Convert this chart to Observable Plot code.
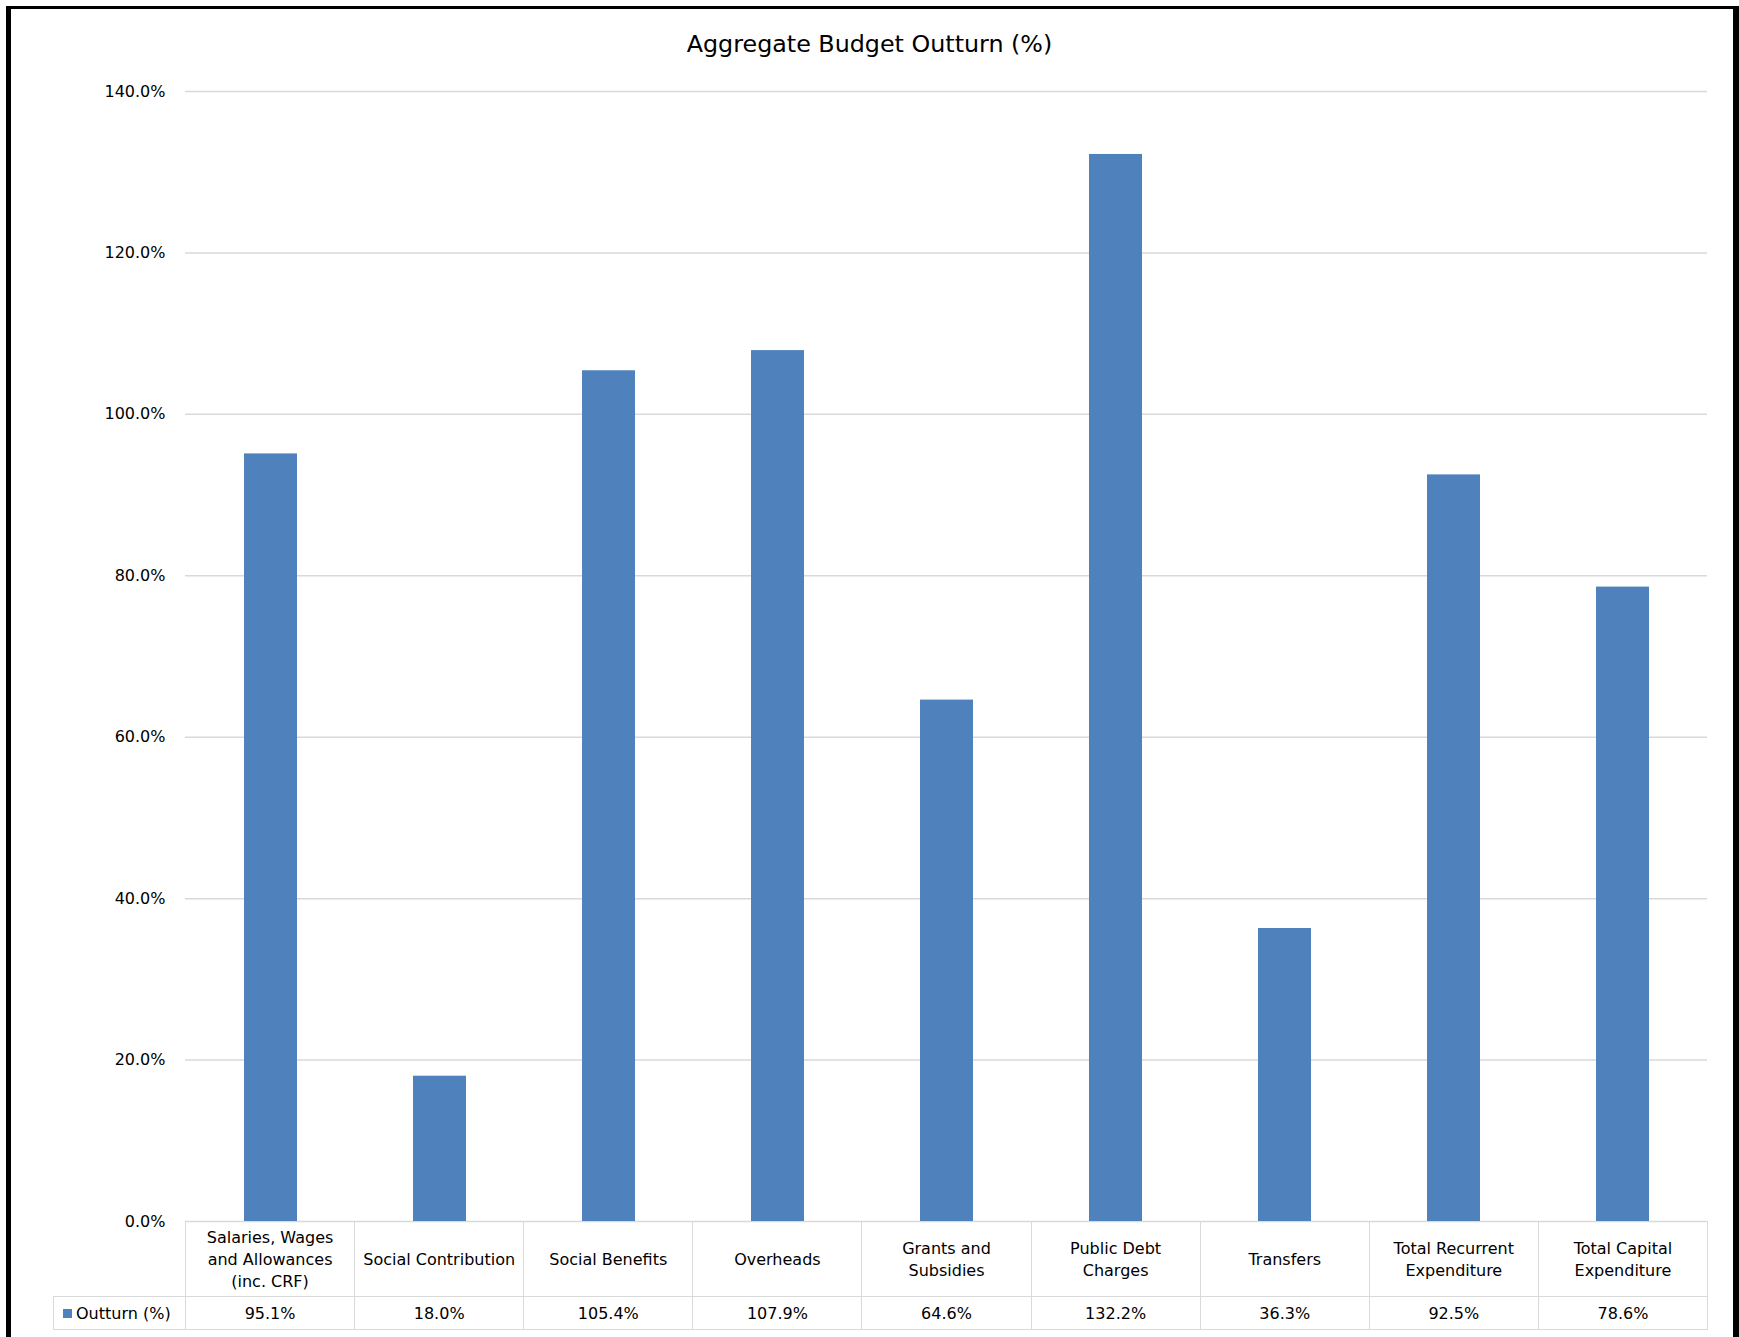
<!DOCTYPE html>
<html>
<head>
<meta charset="utf-8">
<script src="https://cdn.jsdelivr.net/npm/d3@7"></script>
<script src="https://cdn.jsdelivr.net/npm/@observablehq/plot@0.6"></script>
<style>
  html, body { margin: 0; padding: 0; background: #fff; overflow: hidden; }
  body { width: 1739px; height: 1337px; position: relative; font-family: "DejaVu Sans", Verdana, sans-serif; color: #000; }
  #frame { position: absolute; left: 6px; top: 6px; width: 1722px; height: 1400px;
           border-left: 5px solid #000; border-top: 3px solid #000; border-right: 6px solid #000; }
  #title { position: absolute; left: 0; top: 33px; width: 1739px; text-align: center;
           font-size: 23.8px; line-height: 23.8px; }
  #chart { position: absolute; left: 0; top: 0; }
  #datatable { position: absolute; left: 53px; top: 1221px; border-collapse: collapse;
               table-layout: fixed; font-size: 16px; }
  #datatable td { border: 1.5px solid #d9d9d9; text-align: center; vertical-align: middle;
                  padding: 0; line-height: 22px; white-space: pre; }
  #datatable tr.head td { height: 72px; padding-top: 2px; }
  #datatable tr.vals td { height: 30px; padding-top: 2px; }
  #datatable td.corner { border-top: none; border-left: none; }
  #datatable td.key { text-align: left; padding-left: 9px; }
  .swatch { display: inline-block; width: 9px; height: 9px; margin-right: 4px; vertical-align: 1px; }
</style>
</head>
<body>
<div id="frame"></div>
<div id="chart"></div>
<div id="title">Aggregate Budget Outturn (%)</div>
<table id="datatable"></table>
<script>
// Expenditure categories and their outturn against budget (%)
const categories = [
  "Salaries, Wages and Allowances (inc. CRF)",
  "Social Contribution",
  "Social Benefits",
  "Overheads",
  "Grants and Subsidies",
  "Public Debt Charges",
  "Transfers",
  "Total Recurrent Expenditure",
  "Total Capital Expenditure"
];
const categoryLabels = [
  "Salaries, Wages\nand Allowances\n(inc. CRF)",
  "Social Contribution",
  "Social Benefits",
  "Overheads",
  "Grants and\nSubsidies",
  "Public Debt\nCharges",
  "Transfers",
  "Total Recurrent\nExpenditure",
  "Total Capital\nExpenditure"
];
const outturn = [95.1, 18.0, 105.4, 107.9, 64.6, 132.2, 36.3, 92.5, 78.6];
const yTicks = [0, 20, 40, 60, 80, 100, 120, 140];
const seriesName = "Outturn (%)";
const barColor = "#4f81bd";

const pct = d => d.toFixed(1) + "%";
const rows = categories.map((category, i) => ({category, value: outturn[i]}));

const chart = Plot.plot({
  width: 1739,
  height: 1231,
  marginTop: 91,
  marginBottom: 10,
  marginLeft: 185,
  marginRight: 32,
  style: {fontFamily: "'DejaVu Sans', Verdana, sans-serif", fontSize: "16px", color: "#000", background: "transparent", overflow: "visible"},
  x: {type: "band", domain: categories, paddingInner: 0.687, paddingOuter: 0.3435, axis: null},
  y: {domain: [0, 140], ticks: yTicks, tickFormat: pct, tickSize: 0, tickPadding: 20, label: null},
  marks: [
    Plot.ruleY(yTicks, {stroke: "#d9d9d9", strokeWidth: 1.5}),
    Plot.barY(rows, {x: "category", y: "value", fill: barColor})
  ]
});
document.getElementById("chart").appendChild(chart);

// Data table under the bars, one column per band of the x scale
const xs = chart.scale("x");
const step = (xs.range[1] - xs.range[0]) / categories.length;
const keyWidth = xs.range[0] - 53;
const table = document.getElementById("datatable");
const colgroup = document.createElement("colgroup");
[keyWidth, ...categories.map(() => step)].forEach(w => {
  const col = document.createElement("col");
  col.style.width = w + "px";
  colgroup.appendChild(col);
});
table.appendChild(colgroup);
table.style.width = (keyWidth + step * categories.length) + "px";

const head = document.createElement("tr");
head.className = "head";
const corner = document.createElement("td");
corner.className = "corner";
head.appendChild(corner);
categoryLabels.forEach(label => {
  const td = document.createElement("td");
  td.textContent = label;
  head.appendChild(td);
});
table.appendChild(head);

const vals = document.createElement("tr");
vals.className = "vals";
const key = document.createElement("td");
key.className = "key";
const sw = document.createElement("span");
sw.className = "swatch";
sw.style.background = barColor;
key.appendChild(sw);
key.appendChild(document.createTextNode(seriesName));
vals.appendChild(key);
outturn.forEach(v => {
  const td = document.createElement("td");
  td.textContent = pct(v);
  vals.appendChild(td);
});
table.appendChild(vals);
</script>
</body>
</html>
